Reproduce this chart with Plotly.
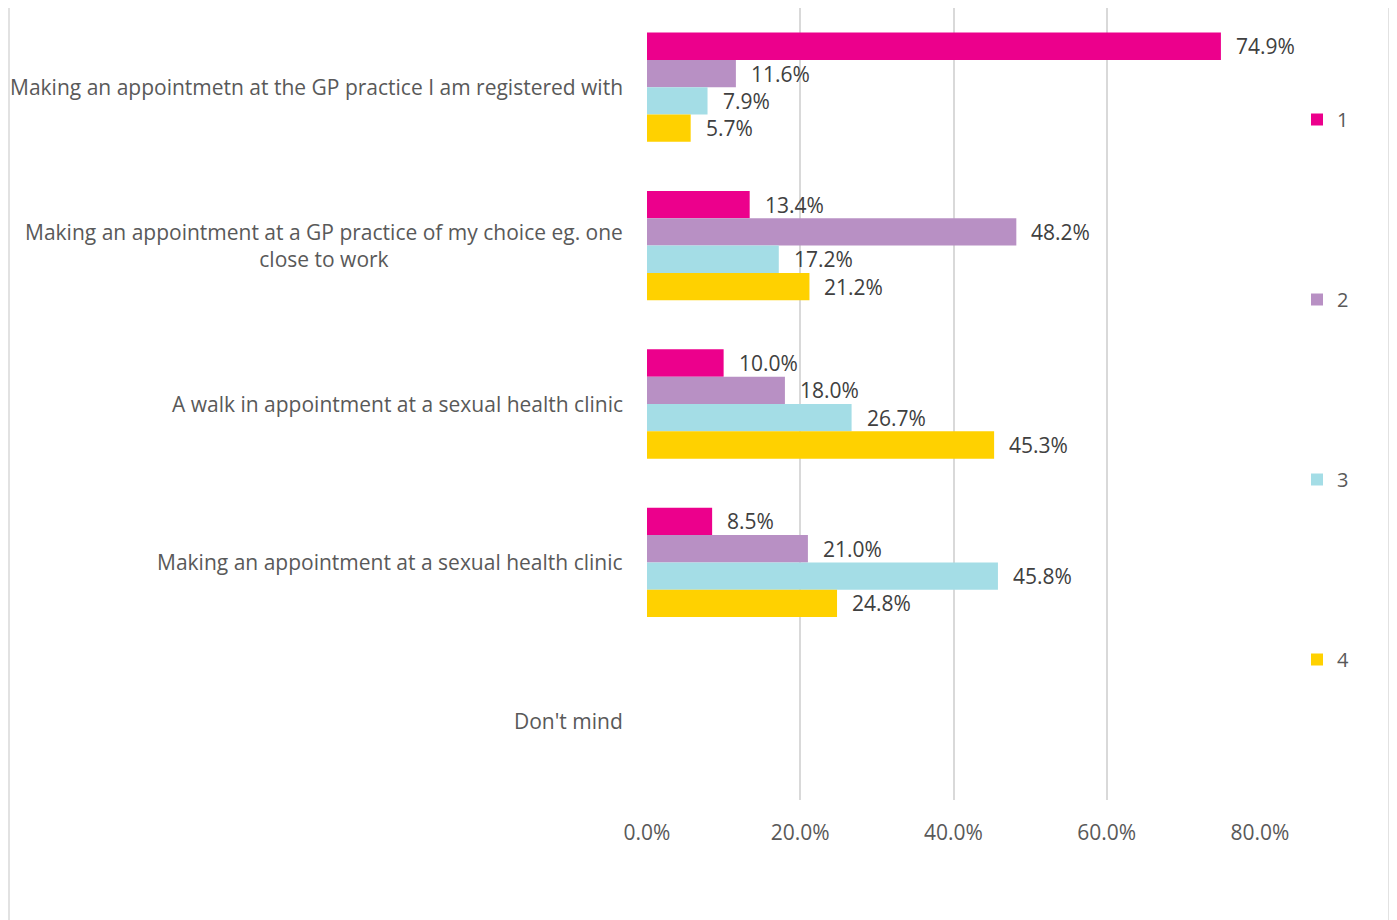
import plotly.graph_objects as go

categories = [
    "Making an appointmetn at the GP practice I am registered with",
    "Making an appointment at a GP practice of my choice eg. one<br>close to work",
    "A walk in appointment at a sexual health clinic",
    "Making an appointment at a sexual health clinic",
    "Don't mind",
]
series_names = ["1", "2", "3", "4"]
s1 = [0.749, 0.134, 0.100, 0.085, None]
s2 = [0.116, 0.482, 0.180, 0.210, None]
s3 = [0.079, 0.172, 0.267, 0.458, None]
s4 = [0.057, 0.212, 0.453, 0.248, None]
series_values = [s1, s2, s3, s4]
colors = ["#EC008C", "#B890C4", "#A4DDE6", "#FFD100"]
x_ticks = [0, 0.2, 0.4, 0.6, 0.8]
x_ticklabels = ["0.0%", "20.0%", "40.0%", "60.0%", "80.0%"]

W, H = 1389, 912
ml, mt = 639, 0
pw, ph = 613, 792
mr = W - ml - pw
mb = H - mt - ph

fig = go.Figure()
for name, vals, col in zip(series_names, series_values, colors):
    fig.add_trace(go.Bar(
        y=categories, x=vals, name=name, orientation="h",
        marker=dict(color=col, line=dict(width=0)),
        legendgroup=name,
    ))

n = len(series_names)
annotations = []
for i, vals in enumerate(series_values):
    for j, v in enumerate(vals):
        if v is None:
            continue
        annotations.append(dict(
            x=v, y=categories[j], xref="x", yref="y",
            text=f"{v*100:.1f}%", showarrow=False, xanchor="left",
            xshift=13, yshift=-((i - (n - 1) / 2) * 27.3),
            font=dict(family="Open Sans", size=21, color="#404040"),
        ))
for c in categories:
    annotations.append(dict(
        x=0, y=c, xref="paper", yref="y", text=c, showarrow=False,
        xanchor="right", align="center", xshift=-22,
        font=dict(family="Open Sans", size=21, color="#595959"),
    ))

fig.update_layout(
    width=W, height=H,
    margin=dict(l=ml, r=mr, t=mt, b=mb, pad=0),
    paper_bgcolor="white", plot_bgcolor="white",
    barmode="group", bargap=0.31, bargroupgap=0,
    annotations=annotations,
    showlegend=True,
    legend=dict(
        x=(1289 - ml) / pw, xanchor="left",
        y=(ph - 92) / ph, yanchor="top",
        traceorder="grouped", tracegroupgap=151,
        font=dict(family="Open Sans", size=20, color="#595959"),
        itemwidth=30, bgcolor="rgba(0,0,0,0)",
    ),
    xaxis=dict(
        range=[0, 0.8], tickvals=x_ticks, ticktext=x_ticklabels,
        showgrid=True, gridcolor="#D9D9D9", gridwidth=1.5,
        zeroline=False, showline=False,
        ticks="outside", ticklen=14, tickcolor="rgba(0,0,0,0)",
        tickfont=dict(family="Open Sans", size=21, color="#595959"),
        fixedrange=True,
    ),
    yaxis=dict(
        autorange="reversed", showticklabels=False, showgrid=False,
        zeroline=False, showline=False,
    ),
    shapes=[
        dict(type="line", xref="paper", yref="paper",
             x0=(1 - ml) / pw, x1=(1 - ml) / pw, y0=-2, y1=2,
             line=dict(color="#D9D9D9", width=1.5)),
        dict(type="line", xref="paper", yref="paper",
             x0=(1381 - ml) / pw, x1=(1381 - ml) / pw, y0=-2, y1=2,
             line=dict(color="#D9D9D9", width=1.5)),
    ],
)
fig.write_html("out.html")
